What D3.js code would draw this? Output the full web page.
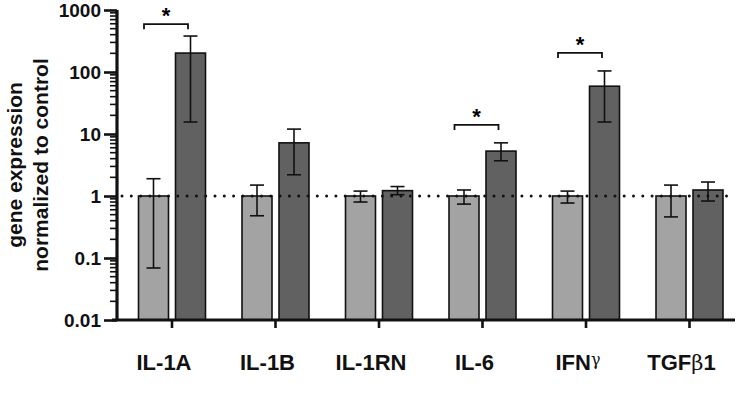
<!DOCTYPE html>
<html>
<head>
<meta charset="utf-8">
<script src="https://cdn.jsdelivr.net/npm/d3@7"></script>
<style>
  body { margin: 0; background: #fff; }
  svg text { font-family: "Liberation Sans", Arial, sans-serif; font-weight: bold; }
</style>
</head>
<body>
<div id="chart"></div>
<script>
// gene expression data
var categories = ["IL-1A", "IL-1B", "IL-1RN", "IL-6", "IFNγ", "TGFβ1"];
var groups = ["control", "treated"];
var control   = [1, 1, 1, 1, 1, 1];
var controlLo = [0.069, 0.48, 0.8, 0.74, 0.77, 0.46];
var controlHi = [1.9, 1.5, 1.2, 1.25, 1.2, 1.5];
var treated   = [202, 7.2, 1.22, 5.3, 59, 1.25];
var treatedLo = [15.6, 2.2, 1.05, 3.7, 15.6, 0.83];
var treatedHi = [380, 12, 1.42, 7.2, 104, 1.68];
var yTicks = [0.01, 0.1, 1, 10, 100, 1000];
var yTickLabels = ["0.01", "0.1", "1", "10", "100", "1000"];
var sigCats = ["IL-1A", "IL-6", "IFNγ"];
var sigLevel = [590, 14, 203];

var width = 738,
    height = 404;

var svg = d3.select("#chart").append("svg")
    .attr("width", width)
    .attr("height", height);

var y = d3.scaleLog().domain([0.01, 1000]).range([320, 10]);
var x = d3.scaleBand().domain(categories).range([120.25, 741.25]);
var xi = d3.scaleBand().domain(groups).range([-33.5, 33.5]).paddingInner(7 / 37);

var rows = categories.map(function(c, i) {
  return [
    { cat: c, g: "control", v: control[i], lo: controlLo[i], hi: controlHi[i] },
    { cat: c, g: "treated", v: treated[i], lo: treatedLo[i], hi: treatedHi[i] }
  ];
});
var flat = d3.merge(rows);
function cx(d) { return x(d.cat) + x.bandwidth() / 2; }

// bars
svg.append("g").selectAll("rect")
    .data(flat)
  .enter().append("rect")
    .attr("x", function(d) { return cx(d) + xi(d.g); })
    .attr("y", function(d) { return y(d.v); })
    .attr("width", xi.bandwidth())
    .attr("height", function(d) { return y(0.01) - y(d.v); })
    .attr("fill", function(d) { return d.g == "control" ? "#a3a3a3" : "#616161"; })
    .attr("stroke", "#111")
    .attr("stroke-width", 1.6);

// dotted reference line at 1
svg.append("line")
    .attr("x1", 122).attr("x2", 735)
    .attr("y1", y(1)).attr("y2", y(1))
    .attr("stroke", "#111")
    .attr("stroke-width", 3)
    .attr("stroke-linecap", "round")
    .attr("stroke-dasharray", "0 9.3");

// error bars
var err = svg.append("g").attr("stroke", "#111").attr("stroke-width", 1.6).attr("fill", "none");
flat.forEach(function(d) {
  var m = cx(d) + xi(d.g) + xi.bandwidth() / 2;
  err.append("line").attr("x1", m).attr("x2", m).attr("y1", y(d.lo)).attr("y2", y(d.hi));
  err.append("line").attr("x1", m - 7).attr("x2", m + 7).attr("y1", y(d.lo)).attr("y2", y(d.lo));
  err.append("line").attr("x1", m - 7).attr("x2", m + 7).attr("y1", y(d.hi)).attr("y2", y(d.hi));
});

// significance brackets
sigCats.forEach(function(c, i) {
  var m = x(c) + x.bandwidth() / 2;
  var by = y(sigLevel[i]);
  svg.append("path")
      .attr("d", "M" + (m - 28) + "," + (by + 5) + "V" + by + "H" + (m + 16) + "V" + (by + 5))
      .attr("fill", "none")
      .attr("stroke", "#111")
      .attr("stroke-width", 1.8);
  svg.append("text")
      .attr("x", m - 6)
      .attr("y", by - 1)
      .attr("text-anchor", "middle")
      .attr("font-size", 22)
      .text("*");
});

// y axis with log minor ticks
var minor = [];
for (var e = -2; e < 3; e++) {
  for (var k = 2; k < 10; k++) minor.push(k * Math.pow(10, e));
}
var yAxis = svg.append("g").attr("transform", "translate(117,0)");
yAxis.selectAll("line.minor")
    .data(minor)
  .enter().append("line")
    .attr("class", "minor")
    .attr("x1", -7).attr("x2", 0)
    .attr("y1", function(d) { return y(d); })
    .attr("y2", function(d) { return y(d); })
    .attr("stroke", "#111").attr("stroke-width", 1.6);
yAxis.call(d3.axisLeft(y).tickValues(yTicks)
    .tickFormat(function(d, i) { return yTickLabels[i]; })
    .tickSize(13).tickPadding(3));
yAxis.select(".domain").attr("stroke", "#111").attr("stroke-width", 3.2)
    .attr("d", "M0," + y(1000) + "V" + y(0.01));
yAxis.selectAll(".tick line").attr("stroke", "#111").attr("stroke-width", 2.6);
yAxis.selectAll(".tick text")
    .attr("font-size", 19)
    .attr("font-family", "Liberation Sans, Arial, sans-serif")
    .attr("font-weight", "bold")
    .attr("fill", "#111");

// x axis
var xAxis = svg.append("g").attr("transform", "translate(0,320)");
xAxis.call(d3.axisBottom(x).tickSize(8).tickFormat(""));
xAxis.select(".domain").attr("stroke", "#111").attr("stroke-width", 3.2)
    .attr("d", "M112,0H735");
xAxis.selectAll(".tick line").attr("stroke", "#111").attr("stroke-width", 2.6);

// category labels, greek letters in a thin serif like the original
var labels = svg.append("g").selectAll("text")
    .data(categories)
  .enter().append("text")
    .attr("text-anchor", "middle")
    .attr("font-size", 22)
    .attr("fill", "#111")
    .attr("x", function(d) { return x(d) + x.bandwidth() / 2 - 8; })
    .attr("y", 370);
labels.each(function(d) {
  var t = d3.select(this);
  var m = d.match(/^([^γβ]*)([γβ]?)(.*)$/);
  t.append("tspan").text(m[1]);
  if (m[2]) {
    t.append("tspan")
        .attr("font-weight", "normal")
        .attr("font-family", "DejaVu Serif, serif")
        .attr("font-size", m[2] == "γ" ? 16 : 21)
        .attr("dy", m[2] == "γ" ? -5 : 0)
        .text(m[2]);
    if (m[3]) t.append("tspan").attr("dy", m[2] == "γ" ? 5 : 0).text(m[3]);
  }
});

// y axis title
var title = svg.append("text")
    .attr("transform", "translate(0,165) rotate(-90)")
    .attr("text-anchor", "middle")
    .attr("font-size", 21)
    .attr("fill", "#111");
title.append("tspan").attr("x", 0).attr("y", 22).text("gene expression");
title.append("tspan").attr("x", 0).attr("y", 48).text("normalized to control");
</script>
</body>
</html>
